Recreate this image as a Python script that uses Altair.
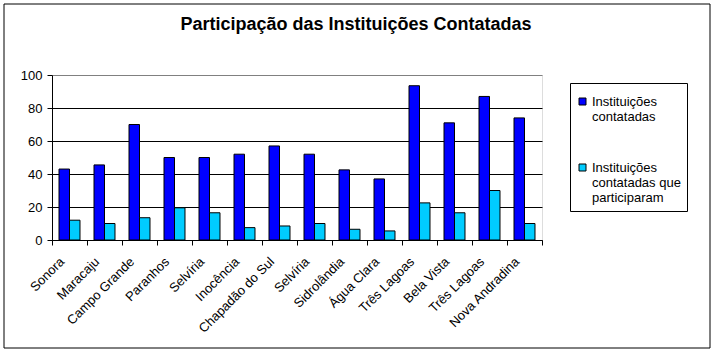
import json
import altair as alt
import pandas as pd

cities = ["Sonora", "Maracaju", "Campo Grande", "Paranhos", "Selvíria", "Inocência",
          "Chapadão do Sul", "Selvíria", "Sidrolândia", "Água Clara", "Três Lagoas",
          "Bela Vista", "Três Lagoas", "Nova Andradina"]
contatadas = [43, 45.5, 70, 50, 50, 52, 57, 52, 42.5, 37, 93.5, 71, 87, 74]
participaram = [12, 10, 13.5, 19.5, 16.5, 7.5, 8.5, 10, 6.5, 5.5, 22.5, 16.5, 30, 10]
series = ["Instituições contatadas", "Instituições contatadas que participaram"]
y_ticks = [0, 20, 40, 60, 80, 100]
title_text = "Participação das Instituições Contatadas"

rows = []
for i, c in enumerate(cities):
    rows.append({"idx": i, "cidade": c, "serie": series[0], "valor": contatadas[i]})
    rows.append({"idx": i, "cidade": c, "serie": series[1], "valor": participaram[i]})
df = pd.DataFrame(rows)

FONT = "Arial, Liberation Sans, sans-serif"
city_expr = json.dumps(cities, ensure_ascii=False) + "[datum.value]"
legend_expr = ("datum.value == '" + series[0] + "' ? ['Instituições', 'contatadas'] : "
               "['Instituições', 'contatadas que', 'participaram']")

bars = alt.Chart(df).mark_bar(stroke="black", strokeWidth=1).encode(
    x=alt.X("idx:O", title=None,
            scale=alt.Scale(paddingInner=0, paddingOuter=0),
            axis=alt.Axis(labelExpr=city_expr, labelAngle=-45, labelFont=FONT,
                          labelFontSize=13, labelColor="black", tickBand="extent",
                          tickSize=5, tickColor="black", domainColor="black",
                          labelPadding=10, labelOffset=-12)),
    xOffset=alt.XOffset("serie:N", scale=alt.Scale(domain=series, paddingOuter=0.667,
                                                   paddingInner=0)),
    y=alt.Y("valor:Q", title=None, scale=alt.Scale(domain=[0, 100]),
            axis=alt.Axis(values=y_ticks, labelFont=FONT, labelFontSize=13,
                          labelColor="black", tickSize=5, tickColor="black",
                          domainColor="black", labelPadding=5, grid=True,
                          gridColor={"condition": {"test": "datum.value === 100",
                                                   "value": "#808080"},
                                     "value": "black"})),
    color=alt.Color("serie:N",
                    scale=alt.Scale(domain=series, range=["#0000FF", "#00CCFF"]),
                    legend=alt.Legend(title=" ", titleFontSize=1, titlePadding=5,
                                      orient="none", legendX=518, legendY=8,
                                      labelExpr=legend_expr, labelFont=FONT,
                                      labelFontSize=13, labelColor="black",
                                      labelLimit=300, labelOffset=3,
                                      symbolType="square",
                                      symbolSize=49, symbolStrokeColor="black",
                                      symbolStrokeWidth=1, strokeColor="black",
                                      fillColor="white", padding=6, rowPadding=37)),
)

frame = alt.Chart(alt.Data(values=[{"a": 1}])).mark_rect(
    stroke="black", strokeWidth=1, fillOpacity=0
).encode(x=alt.value(-48), x2=alt.value(658), y=alt.value(-71), y2=alt.value(273))

chart = alt.layer(bars, frame).properties(
    width=490, height=165,
    autosize="none",
    padding={"left": 52, "top": 75, "right": 171, "bottom": 112},
    title=alt.TitleParams(title_text, font=FONT, fontSize=18, fontWeight="bold",
                          color="black", anchor="middle", dx=59, offset=-44,
                          baseline="alphabetic"),
).configure_view(fill="#FFFFCC", stroke="#808080", strokeWidth=1
).configure(background="white")

chart.save("out.html", embed_options={"renderer": "svg", "actions": False})
